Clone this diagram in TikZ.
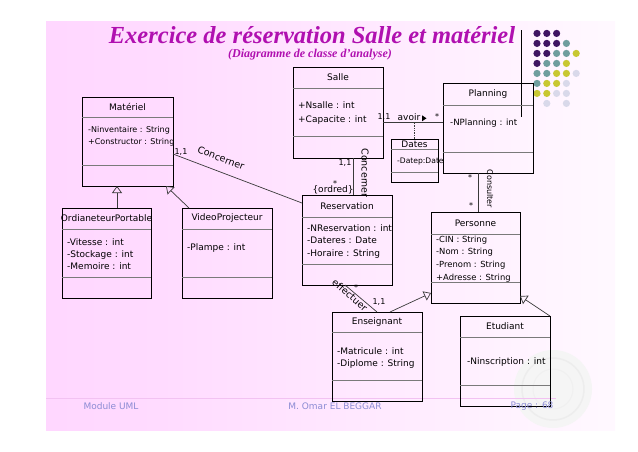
\documentclass[tikz,border=0pt]{standalone}
\usepackage{fontspec}
\setmainfont{DejaVu Sans}
\newfontfamily\titlefont{Liberation Serif}
\usetikzlibrary{arrows.meta,calc}

\definecolor{bgpink}{HTML}{FFCCFF}
\definecolor{bgmid}{HTML}{FFDBFF}
\definecolor{bglight}{HTML}{FFF2FF}
\definecolor{titlemag}{HTML}{B010B0}
\definecolor{footblue}{HTML}{8C8CD4}
\definecolor{footline}{HTML}{F2C2F2}
\definecolor{dotdark}{HTML}{3F1462}
\definecolor{dotteal}{HTML}{6F9E9E}
\definecolor{dotyellow}{HTML}{C8C832}
\definecolor{dotlav}{HTML}{D9D9EA}
\definecolor{sepgray}{HTML}{7A7A7A}
\definecolor{linkgray}{HTML}{3A3A3A}

\pgfdeclarehorizontalshading{slidebg}{100bp}{color(0bp)=(bgpink); color(35bp)=(bgmid); color(65bp)=(bglight); color(85bp)=(white); color(100bp)=(white)}

\tikzset{
  classbox/.style={draw=black, line width=0.9pt, rectangle, anchor=north west, inner sep=0pt, outer sep=0pt},
  sepline/.style={draw=sepgray, line width=0.9pt},
  classname/.style={font=\fontsize{9}{11}\selectfont, inner sep=0pt},
  attrs/.style={font=\fontsize{9}{12.3}\selectfont, align=left, anchor=north west, inner sep=0pt},
  link/.style={draw=linkgray, line width=0.7pt},
  gen/.style={link, -{Triangle[open, length=7pt, width=10pt]}},
  mult/.style={font=\fontsize{8}{9}\selectfont, inner sep=0pt},
  role/.style={font=\fontsize{9.5}{10}\selectfont, inner sep=0pt},
  foot/.style={font=\fontsize{9}{10}\selectfont, text=footblue, inner sep=0pt},
}

% \umlclass{name}{x}{y}{width}{height}{first separator}{second separator}{class name}
\newcommand\umlclass[8]{%
  \node[classbox, minimum width=#4, minimum height=#5] (#1) at (#2,#3) {};
  \draw[sepline] ([yshift=-#6pt]#1.north west) -- ([yshift=-#6pt]#1.north east);
  \draw[sepline] ([yshift=-#7pt]#1.north west) -- ([yshift=-#7pt]#1.north east);
  \node[classname] (#1-name) at ([yshift=-#6pt/2]#1.north) {#8};
}

\begin{document}
\begin{tikzpicture}[x=1pt,y=-1pt]
\useasboundingbox (0,0) rectangle (638,451);

% slide background
\shade[shading=slidebg] (46,21) rectangle (615,430);

% faint emblem in the lower right corner
\fill[gray!8] (553,389) circle (39);
\draw[gray!14, line width=1.5pt] (553,389) circle (31);
\draw[gray!12, line width=1pt] (553,389) circle (20);

% footer rule
\draw[footline, line width=1pt] (46,398) -- (556,398);

% decorative dot grid
\foreach \r/\c/\col in {0/0/dotdark,0/1/dotdark,0/2/dotdark,
  1/0/dotdark,1/1/dotdark,1/2/dotdark,1/3/dotteal,
  2/0/dotdark,2/1/dotdark,2/2/dotteal,2/3/dotteal,2/4/dotyellow,
  3/0/dotdark,3/1/dotteal,3/2/dotteal,3/3/dotyellow,
  4/0/dotteal,4/1/dotteal,4/2/dotyellow,4/3/dotyellow,4/4/dotlav,
  5/0/dotteal,5/1/dotyellow,5/2/dotyellow,5/3/dotlav,
  6/0/dotyellow,6/1/dotyellow,6/2/dotlav,6/3/dotlav,
  7/1/dotlav,7/3/dotlav}
  \fill[\col] (537+9.8*\c, 33.4+10*\r) circle (3.6);

% title
\node[font=\titlefont\bfseries\itshape\fontsize{24.5}{26}\selectfont, text=titlemag, anchor=base, inner sep=0pt]
  (title) at (312,43) {Exercice de réservation Salle et matériel};
\node[font=\titlefont\bfseries\itshape\fontsize{12}{13}\selectfont, text=titlemag, anchor=base, inner sep=0pt]
  (subtitle) at (310,57) {(Diagramme de classe d’analyse)};
\draw[line width=0.8pt] (521,30) -- (521,117);

% classes
\umlclass{materiel}{82}{97}{91}{89}{20}{68}{Matériel}
\node[attrs, font=\fontsize{8}{12}\selectfont] (materiel-attr) at (88,126.5)
  {-Ninventaire : String\\+Constructor : String};

\umlclass{salle}{293}{67}{90}{91}{21}{69}{Salle}
\node[attrs, font=\fontsize{9}{14}\selectfont] (salle-attr) at (298,101.5)
  {+Nsalle : int\\+Capacite : int};

\umlclass{planning}{443}{83}{90}{90}{22}{69}{Planning}
\node[attrs, font=\fontsize{8.6}{12}\selectfont] (planning-attr) at (450,118.5)
  {-NPlanning : int};

\umlclass{dates}{391}{139}{47}{43}{10}{33}{Dates}
\node[attrs, font=\fontsize{7.6}{9}\selectfont] (dates-attr) at (397,158)
  {-Datep:Date};

\umlclass{reservation}{302}{195}{90}{90}{22}{69}{Reservation}
\node[attrs] (reservation-attr) at (307,224.5)
  {-NReservation : int\\-Dateres : Date\\-Horaire : String};

\umlclass{personne}{431}{212}{89}{91}{22}{70}{Personne}
\node[attrs, font=\fontsize{8.4}{12.7}\selectfont] (personne-attr) at (436,235.5)
  {-CIN : String\\-Nom : String\\-Prenom : String\\+Adresse : String};

\umlclass{ordi}{62}{208}{89}{90}{21}{69}{OrdianeteurPortable}
\node[attrs, font=\fontsize{9}{12}\selectfont] (ordi-attr) at (67,238.5)
  {-Vitesse : int\\-Stockage : int\\-Memoire : int};

\umlclass{video}{182}{208}{90}{90}{21}{69}{VideoProjecteur}
\node[attrs] (video-attr) at (187,243.5) {-Plampe : int};

\umlclass{enseignant}{332}{312}{90}{89}{20}{68}{Enseignant}
\node[attrs, font=\fontsize{9}{12}\selectfont] (enseignant-attr) at (337,347.5)
  {-Matricule : int\\-Diplome : String};

\umlclass{etudiant}{460}{316}{90}{90}{21}{69}{Etudiant}
\node[attrs] (etudiant-attr) at (467,357.5) {-Ninscription : int};

% generalisations
\draw[gen] ($(ordi.north west)+(55,0)$) -- ($(materiel.south west)+(35,0)$);
\draw[gen] ($(video.north west)+(7,0)$) -- ($(materiel.south east)+(-7,0)$);
\draw[gen] ($(enseignant.north west)+(58,0)$) -- ($(personne.south west)+(0,-10)$);
\draw[gen] (etudiant.north east) -- ($(personne.south east)+(0,-7)$);

% Materiel -- Reservation
\draw[link] ($(materiel.north east)+(0,57)$) -- ($(reservation.north west)+(0,8)$);
\node[mult] (m-r-mult) at (181,152) {1,1};
\node[role, rotate=-21] (m-r-role) at (221,158) {Concerner};

% Salle -- Reservation
\draw[link] ($(salle.south west)+(60,0)$) -- ($(reservation.north west)+(51,0)$);
\node[mult] (s-r-mult1) at (345,163) {1,1};
\node[mult] (s-r-mult2) at (335,184) {*};
\node[role, font=\fontsize{9}{10}\selectfont] (s-r-order) at (333,190) {\{ordred\}};
\node[role, rotate=-90] (s-r-role) at (365,173) {Concerner};

% Salle -- Planning, with association class Dates
\coordinate (sp) at ($(planning.north west)+(0,39)$);
\draw[link] ($(salle.north east)+(0,55)$) -- (sp);
\draw[link, densely dotted] (dates.north) -- (dates.north |- sp);
\node[mult] (s-p-mult1) at (384,117) {1,1};
\node[role, font=\fontsize{9}{10}\selectfont] (s-p-role) at (409,117) {avoir};
\fill[black] (422,115.3) -- (426.5,118.3) -- (422,121.3) -- cycle;
\node[mult] (s-p-mult2) at (437,117) {*};

% Planning -- Personne
\draw[link] ($(planning.south west)+(35,0)$) -- ($(personne.north west)+(47,0)$);
\node[mult] (p-p-mult1) at (470,178) {*};
\node[mult] (p-p-mult2) at (471,206) {*};
\node[role, font=\fontsize{8}{9}\selectfont, rotate=-90] (p-p-role) at (490,189) {Consulter};

% Reservation -- Enseignant
\draw[link] ($(reservation.south west)+(43,0)$) -- ($(enseignant.north west)+(45,0)$);
\node[mult] (r-e-mult1) at (356,288) {*};
\node[mult] (r-e-mult2) at (379,302) {1,1};
\node[role, rotate=-41] (r-e-role) at (350,295) {effectuer};

% footer
\node[foot] (foot-left) at (111,406) {Module UML};
\node[foot] (foot-mid) at (335,406) {M. Omar EL BEGGAR};
\node[foot] (foot-right) at (532,406) {Page : 68};
\end{tikzpicture}
\end{document}
